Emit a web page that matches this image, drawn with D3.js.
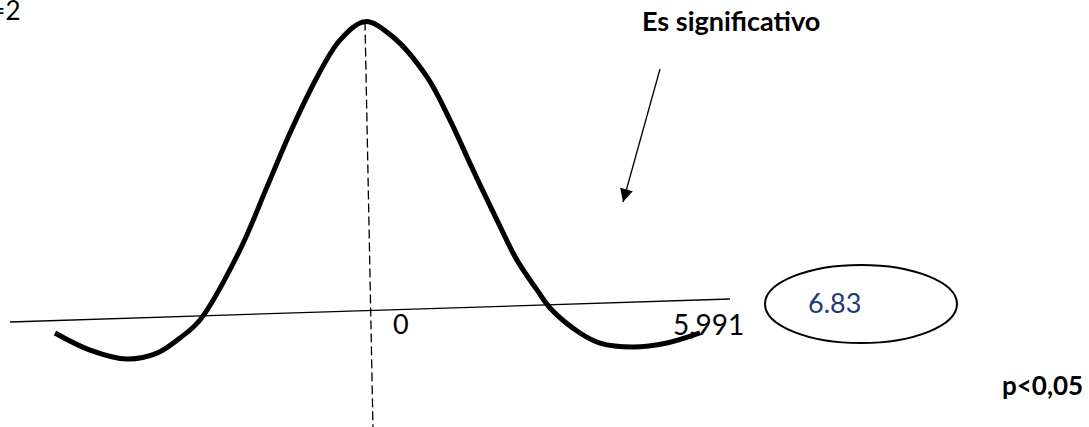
<!DOCTYPE html>
<html>
<head>
<meta charset="utf-8">
<script src="https://cdn.jsdelivr.net/npm/d3@7"></script>
<style>
  body { margin: 0; background: white; }
  svg { display: block; }
  text { font-family: Lato, "Open Sans", sans-serif; }
</style>
</head>
<body>
<div id="chart"></div>
<script>
let W = 1089
let H = 427

// curva (x en unidades del eje, y = altura relativa al pico)
let curveX = [-3.15, -2.80, -2.43, -2.13, -1.90, -1.70, -1.30, -1.03, -0.80, -0.53, -0.30, -0.05,
              0.23, 0.57, 0.80, 1.03, 1.27, 1.47, 1.67, 1.80, 2.10, 2.30, 2.63, 2.97, 3.30]
let curveY = [-0.043, -0.106, -0.141, -0.124, -0.074, -0.014, 0.224, 0.439, 0.623, 0.813, 0.939, 1.0,
              0.944, 0.802, 0.650, 0.475, 0.299, 0.158, 0.053, -0.011, -0.101, -0.138, -0.155, -0.145, -0.114]
let axisExtent = [-3.6, 3.6]
let meanLineX = [-0.05, 0.03]
let meanLineY = [1.0, -0.41]

let dfLabel = "gl=2"
let zeroLabel = "0"
let criticalLabel = "5,991"
let observedValue = "6.83"
let title = "Es significativo"
let pLabel = "p<0,05"

let svg = d3.select("#chart")
    .append("svg")
    .attr("width", W)
    .attr("height", H)

let x = d3.scaleLinear().domain([-1, 1]).range([-100, 100])
let y = d3.scaleLinear().domain([0, 1]).range([0, -289])

// el dibujo está inclinado: el eje baja hacia la izquierda
let plot = svg.append("g")
    .attr("transform", "matrix(1,-0.0319,0,1,370,310.5)")

plot.append("line")
    .attr("x1", x(axisExtent[0])).attr("y1", y(0))
    .attr("x2", x(axisExtent[1])).attr("y2", y(0))
    .attr("stroke", "#000")
    .attr("stroke-width", 1.3)

plot.append("line")
    .attr("x1", x(meanLineX[0])).attr("y1", y(meanLineY[0]))
    .attr("x2", x(meanLineX[1])).attr("y2", y(meanLineY[1]))
    .attr("stroke", "#000")
    .attr("stroke-width", 1.3)
    .attr("stroke-dasharray", "9,4")

// textos del eje (van debajo de la curva)
svg.append("text")
    .attr("x", 393).attr("y", 334)
    .attr("font-size", 27)
    .text(zeroLabel)

svg.append("text")
    .attr("x", 673).attr("y", 335)
    .attr("font-size", 28)
    .text(criticalLabel)

let line = d3.line()
    .x(d => x(d[0]))
    .y(d => y(d[1]))
    .curve(d3.curveCatmullRom.alpha(0.5))

plot.append("path")
    .datum(d3.zip(curveX, curveY))
    .attr("d", line)
    .attr("fill", "none")
    .attr("stroke", "#000")
    .attr("stroke-width", 5)

// gl
svg.append("text")
    .attr("x", 20.5).attr("y", 20)
    .attr("text-anchor", "end")
    .attr("font-size", 26)
    .text(dfLabel)

svg.append("text")
    .attr("x", 642).attr("y", 31)
    .attr("font-size", 27)
    .attr("font-weight", "bold")
    .text(title)

// flecha
svg.append("defs").append("marker")
    .attr("id", "head")
    .attr("viewBox", "0 0 10 10")
    .attr("refX", 10).attr("refY", 5)
    .attr("markerUnits", "userSpaceOnUse")
    .attr("markerWidth", 17).attr("markerHeight", 13)
    .attr("orient", "auto")
    .append("path")
    .attr("d", "M0,0L10,5L0,10Z")
    .attr("fill", "#000")

svg.append("line")
    .attr("x1", 660).attr("y1", 69)
    .attr("x2", 623).attr("y2", 202)
    .attr("stroke", "#000")
    .attr("stroke-width", 1.3)
    .attr("marker-end", "url(#head)")

// valor observado
svg.append("ellipse")
    .attr("cx", 861).attr("cy", 304)
    .attr("rx", 96).attr("ry", 39)
    .attr("fill", "none")
    .attr("stroke", "#000")
    .attr("stroke-width", 2)

svg.append("text")
    .attr("x", 808).attr("y", 313)
    .attr("font-size", 27)
    .attr("fill", "#1f3a78")
    .text(observedValue)

svg.append("text")
    .attr("x", 1002).attr("y", 395)
    .attr("font-size", 26)
    .attr("font-weight", "bold")
    .text(pLabel)
</script>
</body>
</html>
